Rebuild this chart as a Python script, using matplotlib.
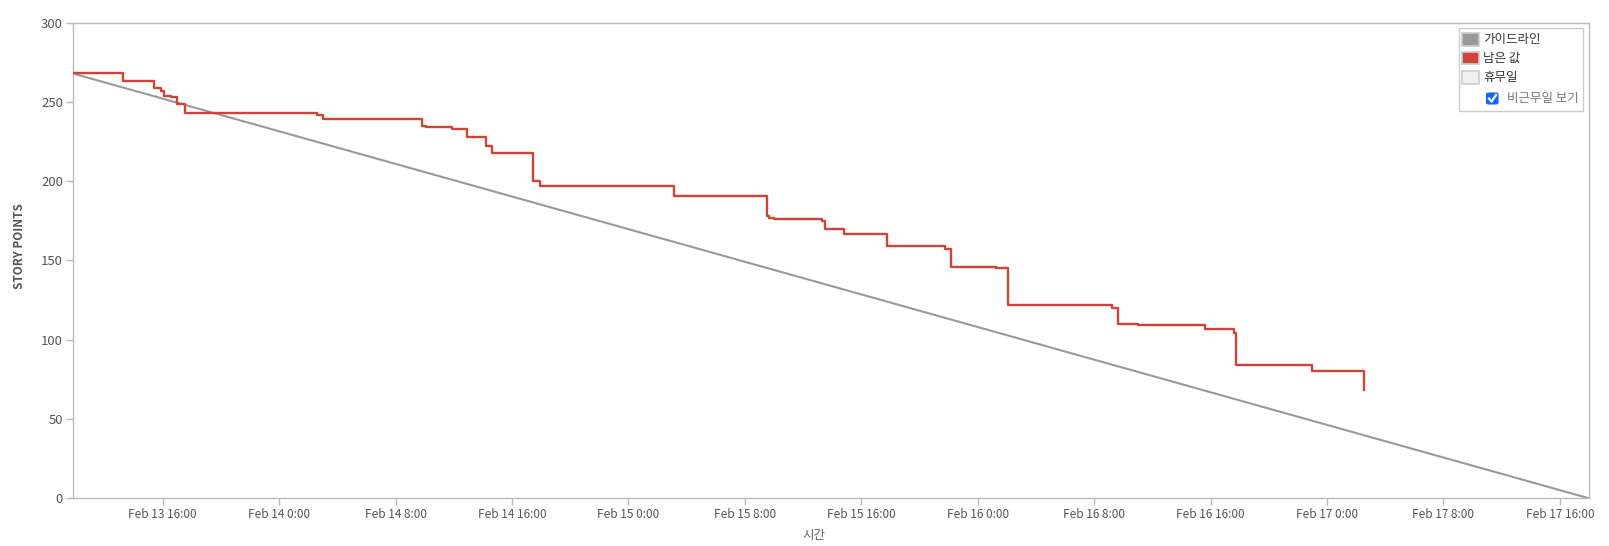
import datetime as dt
import matplotlib
matplotlib.use("Agg")
import matplotlib.pyplot as plt
import matplotlib.dates as mdates
from matplotlib.patches import Rectangle, FancyBboxPatch
from matplotlib.lines import Line2D

plt.rcParams['font.family'] = ['Noto Sans CJK KR', 'DejaVu Sans']

# remaining story points (step after each change)
remain_times = ["2017-02-13 09:49", "2017-02-13 13:18", "2017-02-13 15:23", "2017-02-13 15:55",
                "2017-02-13 16:07", "2017-02-13 16:35", "2017-02-13 17:01", "2017-02-13 17:34",
                "2017-02-14 02:38", "2017-02-14 03:01", "2017-02-14 09:49", "2017-02-14 10:06",
                "2017-02-14 11:52", "2017-02-14 12:56", "2017-02-14 14:14", "2017-02-14 14:37",
                "2017-02-14 17:28", "2017-02-14 17:54", "2017-02-15 03:09", "2017-02-15 09:31",
                "2017-02-15 09:38", "2017-02-15 10:01", "2017-02-15 13:19", "2017-02-15 13:32",
                "2017-02-15 14:49", "2017-02-15 17:48", "2017-02-15 21:46", "2017-02-15 22:08",
                "2017-02-16 01:15", "2017-02-16 02:03", "2017-02-16 09:12", "2017-02-16 09:37",
                "2017-02-16 11:02", "2017-02-16 15:35", "2017-02-16 17:35", "2017-02-16 17:46",
                "2017-02-16 22:58", "2017-02-17 02:31"]
remain_values = [268, 263, 259, 257, 254, 253, 249, 243, 242, 239, 235, 234, 233, 228, 222, 218,
                 200, 197, 191, 178, 177, 176, 175, 170, 167, 159, 157, 146, 145, 122, 120, 110,
                 109, 107, 104, 84, 80, 68]

# guideline
guide_times = ["2017-02-13 09:49", "2017-02-17 18:00"]
guide_values = [268, 0]

y_ticks = [0, 50, 100, 150, 200, 250, 300]
legend_labels = ["가이드라인", "남은 값", "휴무일"]
legend_colors = ["#999999", "#d04437", "#f0f0f0"]
check_label = "비근무일 보기"

W, H = 1609, 546


def parse(ts):
    return [dt.datetime.strptime(t, "%Y-%m-%d %H:%M") for t in ts]


def fx(px):
    return px / W


def fy(py):
    return 1 - py / H


fig = plt.figure(figsize=(W / 100, H / 100), dpi=100)
ax = fig.add_axes([fx(72.7), fy(498.3), fx(1589) - fx(72.7), fy(22.7) - fy(498.3)])

gt = parse(guide_times)
ax.plot(gt, guide_values, color="#999999", lw=1.5, zorder=2)
ax.plot(parse(remain_times), remain_values, color="#d04437", lw=1.7,
        drawstyle="steps-post", zorder=3)

ax.set_xlim(gt[0], gt[1])
ax.set_ylim(0, 300)
ax.set_yticks(y_ticks)

ax.xaxis.set_major_locator(mdates.HourLocator(byhour=[0, 8, 16]))


def fmt_date(x, pos=None):
    d = mdates.num2date(x)
    return "%s %d %d:%02d" % (d.strftime("%b"), d.day, d.hour, d.minute)


ax.xaxis.set_major_formatter(plt.FuncFormatter(fmt_date))

for s in ax.spines.values():
    s.set_color("#bbbbbb")
    s.set_linewidth(1.0)
ax.tick_params(axis="both", colors="#bbbbbb", length=5, width=1, labelcolor="#555555")
ax.tick_params(axis="x", labelsize=8.5, pad=2)
ax.tick_params(axis="y", labelsize=9.5, pad=2)

ax.set_ylabel("STORY POINTS", fontsize=8.5, fontweight="bold", color="#555555")
ax.yaxis.set_label_coords(-0.031, 0.53)
ax.set_xlabel("시간", fontsize=9, color="#6b6157")
ax.xaxis.set_label_coords(0.489, -0.064)

# legend drawn by hand
fig.patches.append(Rectangle((fx(1459.3), fy(111)), fx(1583.3) - fx(1459.3), fy(28.3) - fy(111),
                             transform=fig.transFigure, facecolor="white",
                             edgecolor="#cccccc", lw=1, zorder=5))
rows = [(33.3, 45.7), (51.7, 64.3), (71, 84.3)]
for (top, bot), lab, col in zip(rows, legend_labels, legend_colors):
    fig.patches.append(Rectangle((fx(1462.3), fy(bot)), fx(1479) - fx(1462.3), fy(top) - fy(bot),
                                 transform=fig.transFigure, facecolor=col,
                                 edgecolor="#cccccc", lw=1.2, zorder=6))
    fig.text(fx(1483.3), fy((top + bot) / 2), lab, fontsize=9, color="#333333",
             va="center", ha="left", zorder=7)

fig.patches.append(FancyBboxPatch((fx(1486.5), fy(104)), fx(1498) - fx(1486.5), fy(93) - fy(104),
                                  boxstyle="round,pad=0,rounding_size=0.002",
                                  transform=fig.transFigure, facecolor="#0b6cf0",
                                  edgecolor="#0b6cf0", lw=0.8, zorder=6))
fig.lines.append(Line2D([fx(1489), fx(1491.5), fx(1496)], [fy(98.5), fy(101.5), fy(95)],
                        transform=fig.transFigure, color="white", lw=1.6, zorder=7))
fig.text(fx(1506.7), fy(98.5), check_label, fontsize=9, color="#777777",
         va="center", ha="left", zorder=7)

fig.savefig("out.png", dpi=100, facecolor="white")
